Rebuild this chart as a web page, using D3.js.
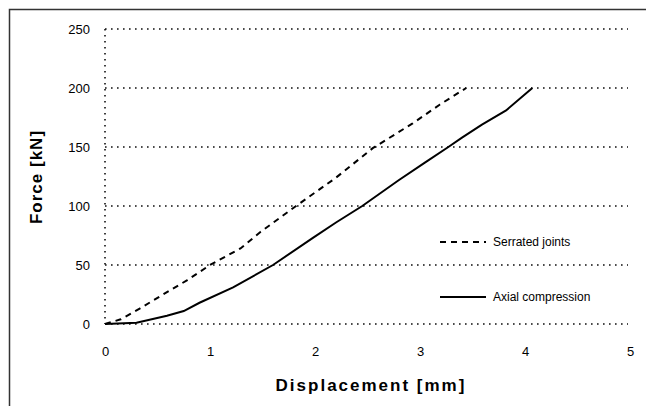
<!DOCTYPE html>
<html><head><meta charset="utf-8">
<script src="https://cdn.jsdelivr.net/npm/d3@7"></script>
<style>body{margin:0;background:#fff}svg{display:block}</style>
</head><body>
<script>
const xTicks = [0, 1, 2, 3, 4, 5];
const yTicks = [0, 50, 100, 150, 200, 250];
const serratedX = [0, 0.15, 0.33, 0.59, 0.78, 1.0, 1.29, 1.48, 1.82, 2.2, 2.55, 2.93, 3.19, 3.44];
const serratedY = [0, 4, 13, 27, 37, 50, 64, 78, 100, 124, 149, 170, 186, 200];
const axialX = [0, 0.3, 0.59, 0.75, 0.9, 1.22, 1.6, 1.98, 2.2, 2.45, 2.8, 3.05, 3.27, 3.4, 3.59, 3.82, 4.07];
const axialY = [0, 1, 7, 11, 18, 31, 50, 73, 86, 100, 122, 137, 150, 158, 169, 181, 200];
const seriesNames = ["Serrated joints", "Axial compression"];
const xTitle = "Displacement [mm]";
const yTitle = "Force [kN]";

const W = 646, H = 406;
const svg = d3.select("body").append("svg").attr("width", W).attr("height", H);
const x = d3.scaleLinear().domain([0, 5]).range([105, 630]);
const y = d3.scaleLinear().domain([0, 250]).range([324, 29]);
const font = "'Liberation Sans', Arial, sans-serif";

// frame
svg.append("rect").attr("x", 9.5).attr("y", 9.5).attr("width", W + 20).attr("height", H + 20)
  .attr("fill", "none").attr("stroke", "#333").attr("stroke-width", 1.5);

// grid
svg.append("g").selectAll("line").data(yTicks).join("line")
  .attr("x1", x(0)).attr("x2", 628).attr("y1", d => y(d)).attr("y2", d => y(d))
  .attr("stroke", "#111").attr("stroke-width", 1.6).attr("stroke-dasharray", "1.6,4.4");
svg.append("line").attr("x1", x(0)).attr("x2", x(0)).attr("y1", y(250)).attr("y2", y(0))
  .attr("stroke", "#111").attr("stroke-width", 1.6).attr("stroke-dasharray", "1.6,4.4");

// axes labels
const yAxis = d3.axisLeft(y).tickValues(yTicks).tickSize(0).tickPadding(0);
const gy = svg.append("g").attr("transform", "translate(90,0)").call(yAxis);
gy.select(".domain").remove();
gy.selectAll("text").attr("font-family", font).attr("font-size", 13).attr("fill", "#000");

const xAxis = d3.axisBottom(x).tickValues(xTicks).tickFormat(d3.format("d")).tickSize(0).tickPadding(0);
const gx = svg.append("g").attr("transform", "translate(0,347)").call(xAxis);
gx.select(".domain").remove();
gx.selectAll("text").attr("font-family", font).attr("font-size", 13).attr("fill", "#000");

svg.append("text").attr("x", 371).attr("y", 391).attr("text-anchor", "middle")
  .attr("font-family", font).attr("font-size", 17).attr("font-weight", "bold")
  .attr("letter-spacing", 2).text(xTitle);
svg.append("text").attr("transform", "translate(42,177) rotate(-90)").attr("text-anchor", "middle")
  .attr("font-family", font).attr("font-size", 17).attr("font-weight", "bold")
  .attr("letter-spacing", 1).text(yTitle);

// lines
const line = d3.line().x(d => x(d[0])).y(d => y(d[1]));
const sData = serratedX.map((v, i) => [v, serratedY[i]]);
const aData = axialX.map((v, i) => [v, axialY[i]]);
svg.append("path").datum(sData).attr("d", line).attr("fill", "none")
  .attr("stroke", "#000").attr("stroke-width", 2).attr("stroke-dasharray", "6,5");
svg.append("path").datum(aData).attr("d", line).attr("fill", "none")
  .attr("stroke", "#000").attr("stroke-width", 2);

// legend
const leg = [{y: 242, dash: "6,5"}, {y: 297, dash: null}];
leg.forEach((l, i) => {
  svg.append("line").attr("x1", 440).attr("x2", 486).attr("y1", l.y).attr("y2", l.y)
    .attr("stroke", "#000").attr("stroke-width", 2).attr("stroke-dasharray", l.dash);
  svg.append("text").attr("x", 493).attr("y", l.y + 4).attr("font-family", font)
    .attr("font-size", 12).text(seriesNames[i]);
});
</script>
</body></html>
